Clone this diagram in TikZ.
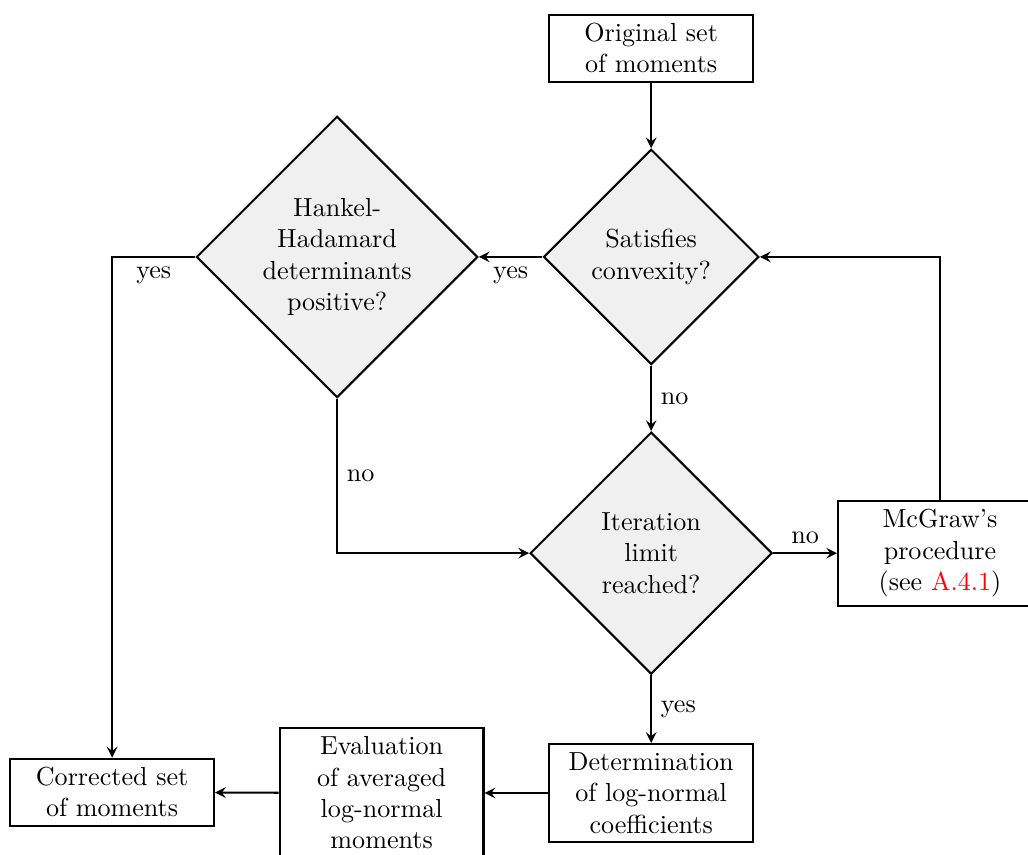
\documentclass[tikz,border=0pt]{standalone}
\usepackage{color}
\usepackage{tikz}
\usetikzlibrary{shapes.geometric}

\tikzset{
  block/.style={shape=rectangle,draw=black,thick,text width=2.51cm,align=center},
  decision/.style={shape=diamond,draw=black,thick,fill=black!6,aspect=1,align=center,inner sep=1pt},
  >=stealth
}

\begin{document}
\begin{tikzpicture}
	\useasboundingbox (0,0) rectangle (13.845,-11.515);

	\node[block] (orig) at (8.77, -0.65) {Original set\\of moments};
	\node[decision,minimum size=2.90cm] (sat) at (8.77, -3.46) {Satisfies\\convexity?};
	\node[decision,minimum size=3.79cm] (hank) at (4.54, -3.46) {Hankel-\\Hadamard\\determinants\\positive?};
	\node[decision,minimum size=3.26cm] (iter) at (8.77, -7.45) {Iteration\\limit\\reached?};
	\node[block] (mcg) at (12.66, -7.45) {McGraw's\\procedure\\(see \textcolor{red}{A.4.1})};
	\node[block] (det) at (8.77, -10.68) {Determination\\of log-normal\\coefficients};
	\node[block] (eval) at (5.14, -10.68) {Evaluation\\of averaged\\log-normal\\moments};
	\node[block] (corr) at (1.51, -10.67) {Corrected set\\of moments};

	\path[->,thick] (orig) edge (sat);
	\path[->,thick] (sat) edge node[below]{yes} (hank);
	\path[->,thick] (sat) edge node[right]{no} (iter);
	\path[->,thick] (iter) edge node[above]{no} (mcg);
	\path[->,thick] (iter) edge node[right]{yes} (det);
	\path[->,thick] (det) edge (eval);
	\path[->,thick] (eval) edge (corr);
	\draw[->,thick] (hank) -| node[pos=0.25,below]{yes} (corr);
	\draw[->,thick] (hank) |- node[pos=0.25,right]{no} (iter);
	\draw[->,thick] (mcg) |- (sat);
\end{tikzpicture}
\end{document}
